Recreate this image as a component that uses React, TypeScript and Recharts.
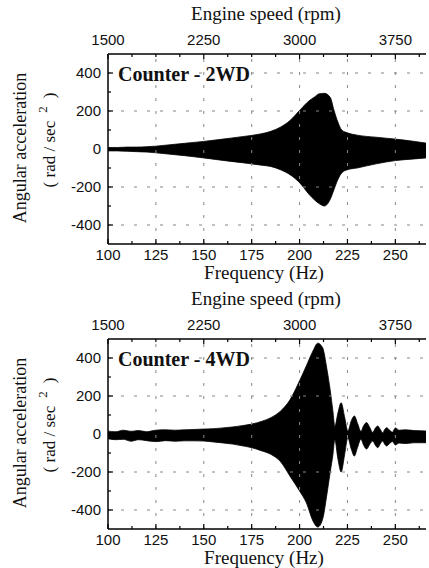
import React from 'react';
import {
  ComposedChart, Area, XAxis, YAxis, ReferenceLine
} from 'recharts';

// frequency (Hz) vs envelope of angular acceleration (rad/sec^2)
const freq2wd = [100, 105, 110, 115, 120, 125, 130, 140, 150, 160, 170, 180, 185, 190, 195, 200, 205, 208, 210, 213, 216, 218, 220, 222, 225, 230, 240, 250, 260, 266];
const upper2wd = [8, 8, 10, 10, 12, 15, 20, 30, 40, 52, 65, 80, 93, 115, 150, 203, 254, 275, 290, 293, 272, 203, 142, 100, 85, 73, 62, 52, 40, 31];
const lower2wd = [-10, -10, -12, -14, -16, -20, -25, -35, -47, -60, -72, -85, -92, -109, -135, -177, -239, -270, -286, -300, -265, -213, -161, -126, -109, -100, -78, -61, -52, -47];

const freq4wd = [100, 104, 108, 112, 116, 120, 125, 130, 135, 140, 145, 150, 155, 160, 165, 170, 175, 180, 185, 190, 195, 200, 203.5, 207, 209.5, 212, 214.3, 216, 217.4, 218.4, 220, 221.7, 223.5, 225.2, 227, 228.6, 230.3, 232, 233.5, 235, 236.6, 238.2, 239.5, 240.8, 242.1, 243.4, 244.5, 245.5, 247, 248.5, 250, 252, 255, 260, 266];
const upper4wd = [15, 12, 20, 14, 18, 12, 20, 22, 20, 22, 24, 26, 28, 32, 37, 44, 52, 66, 86, 120, 180, 280, 358, 437, 478, 455, 340, 230, 121, 40, 110, 165, 90, 16, 70, 95, 55, 14, 45, 60, 35, 8, 30, 42, 25, 6, 25, 33, 20, 10, 32, 20, 22, 18, 16];
const lower4wd = [-25, -30, -28, -38, -30, -35, -40, -35, -38, -36, -36, -37, -42, -47, -53, -62, -72, -88, -107, -145, -222, -300, -361, -458, -490, -450, -316, -200, -110, -30, -130, -200, -110, -20, -80, -116, -70, -27, -60, -79, -55, -37, -58, -72, -52, -37, -55, -63, -50, -40, -58, -48, -50, -46, -46];

const freqTicks = [100, 112.5, 125, 137.5, 150, 162.5, 175, 187.5, 200, 212.5, 225, 237.5, 250, 262.5];
const gridFreqs = [125, 150, 175, 200, 225, 250];
const accTicks = [-400, -300, -200, -100, 0, 100, 200, 300, 400];
const gridAccs = [-400, -200, 200, 400];
const RPM_PER_HZ = 15;

const sans = '"Liberation Sans", Arial, sans-serif';
const serif = '"Liberation Serif", "Times New Roman", serif';

const BottomTick = (p: any) => {
  const { x, y, payload } = p;
  const v = payload.value;
  const major = v % 25 === 0;
  return (
    <g>
      <line x1={x} x2={x} y1={y} y2={y - (major ? 5 : 3)} stroke="#000" strokeWidth={1.2} />
      {major && (
        <text x={x} y={y + 16} textAnchor="middle" fontFamily={sans} fontSize={15} fill="#111">{v}</text>
      )}
    </g>
  );
};

const TopTick = (p: any) => {
  const { x, y, payload } = p;
  const v = payload.value;
  const major = v % 50 === 0;
  return (
    <g>
      <line x1={x} x2={x} y1={y} y2={y + (major ? 5 : 3)} stroke="#000" strokeWidth={1.2} />
      {major && (
        <text x={x} y={y - 9} textAnchor="middle" fontFamily={sans} fontSize={15} fill="#111">{v * RPM_PER_HZ}</text>
      )}
    </g>
  );
};

const LeftTick = (p: any) => {
  const { x, y, payload } = p;
  const v = payload.value;
  const major = v % 200 === 0;
  return (
    <g>
      <line x1={x} x2={x + (major ? 5 : 3)} y1={y} y2={y} stroke="#000" strokeWidth={1.2} />
      {major && (
        <text x={x - 7} y={y + 5} textAnchor="end" fontFamily={sans} fontSize={15} fill="#111">{v}</text>
      )}
    </g>
  );
};

const RightTick = (p: any) => {
  const { x, y, payload } = p;
  const major = payload.value % 200 === 0;
  return <line x1={x} x2={x - (major ? 5 : 3)} y1={y} y2={y} stroke="#000" strokeWidth={1.2} />;
};

const buildRows = (f: number[], hi: number[], lo: number[]) =>
  f.map((v, i) => ({ f: v, band: [lo[i], hi[i]] }));

const Panel: React.FC<{ top: number; title: string; rows: { f: number; band: number[] }[] }> = ({ top, title, rows }) => {
  return (
    <div style={{ position: 'absolute', left: 0, top, width: 429, height: 284 }}>
      <ComposedChart width={429} height={284} data={rows} margin={{ top: 0, right: 3, bottom: 0, left: 0 }}>
        <XAxis xAxisId="b" dataKey="f" type="number" domain={[100, 266]} allowDataOverflow ticks={freqTicks}
          interval={0} orientation="bottom" height={40} tickSize={0} tickMargin={0} tick={BottomTick}
          axisLine={{ stroke: '#000', strokeWidth: 1.5 }} />
        <XAxis xAxisId="t" dataKey="f" type="number" domain={[100, 266]} allowDataOverflow ticks={freqTicks}
          interval={0} orientation="top" height={54} tickSize={0} tickMargin={0} tick={TopTick}
          axisLine={{ stroke: '#000', strokeWidth: 1.5 }} />
        <YAxis yAxisId="l" type="number" domain={[-500, 500]} ticks={accTicks} interval={0} width={108}
          tickSize={0} tickMargin={0} tick={LeftTick} axisLine={{ stroke: '#000', strokeWidth: 1.5 }} />
        <YAxis yAxisId="r" orientation="right" type="number" domain={[-500, 500]} ticks={accTicks} interval={0} width={0}
          tickSize={0} tickMargin={0} tick={RightTick} axisLine={{ stroke: '#000', strokeWidth: 1.5 }} />
        {gridFreqs.map(v => (
          <ReferenceLine key={'gx' + v} xAxisId="b" yAxisId="l" x={v} stroke="#888" strokeDasharray="3 10" />
        ))}
        {gridAccs.map(v => (
          <ReferenceLine key={'gy' + v} xAxisId="b" yAxisId="l" y={v} stroke="#888" strokeDasharray="3 10" />
        ))}
        <Area xAxisId="b" yAxisId="l" type="monotone" dataKey="band" stroke="#000" strokeWidth={0.8}
          fill="#000" fillOpacity={1} isAnimationActive={false} dot={false} activeDot={false} />
      </ComposedChart>
      <svg width={429} height={284} style={{ position: 'absolute', left: 0, top: 0, pointerEvents: 'none' }}>
        <text x={266} y={20} textAnchor="middle" fontFamily={serif} fontSize={19} fill="#111">Engine speed (rpm)</text>
        <text x={264} y={279} textAnchor="middle" fontFamily={serif} fontSize={19} fill="#111">Frequency (Hz)</text>
        <text x={118} y={81} fontFamily={serif} fontSize={20} fontWeight="bold" fill="#111">{title}</text>
        <text x={26} y={148} transform="rotate(-90, 26, 148)" textAnchor="middle" fontFamily={serif} fontSize={18} fill="#111">Angular acceleration</text>
        <text x={55} y={140} transform="rotate(-90, 55, 140)" textAnchor="middle" fontFamily={serif} fontSize={17} fill="#111">
          ( rad / sec
          <tspan dx={8} dy={-8} fontSize={13}>2</tspan>
          <tspan dx={8} dy={8}>)</tspan>
        </text>
      </svg>
    </div>
  );
};

export default function App() {
  return (
    <div style={{ position: 'absolute', left: 0, top: 0, width: 429, height: 568, background: '#fff', overflow: 'hidden' }}>
      <Panel top={0} title="Counter - 2WD" rows={buildRows(freq2wd, upper2wd, lower2wd)} />
      <Panel top={285} title="Counter - 4WD" rows={buildRows(freq4wd, upper4wd, lower4wd)} />
    </div>
  );
}
